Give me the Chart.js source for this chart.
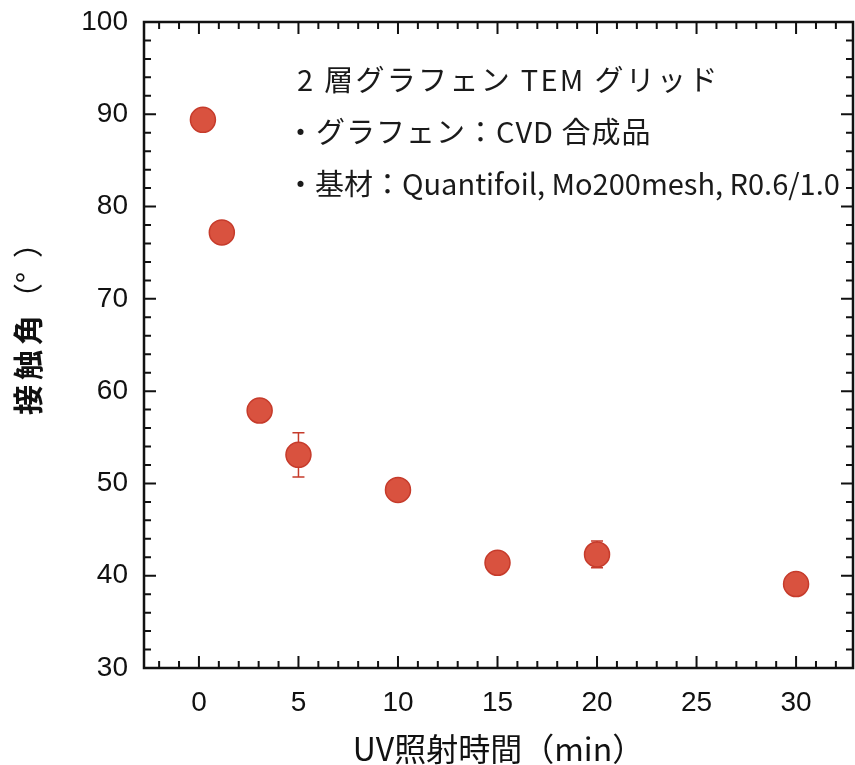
<!DOCTYPE html>
<html lang="ja">
<head>
<meta charset="utf-8">
<title>接触角 vs UV照射時間</title>
<script src="https://cdn.jsdelivr.net/npm/chart.js@4.4.1/dist/chart.umd.min.js"></script>
<style>
  html, body { margin: 0; padding: 0; background: #fff; }
  #wrap { width: 855px; height: 765px; }
</style>
</head>
<body>
<div id="wrap"><canvas id="chart-contact" width="855" height="765"></canvas></div>
<script>
// ===== Data =====
const uvMinutes = [0.2, 1.15, 3.05, 5, 10, 15, 20, 30];
const contactAngle = [89.4, 77.2, 57.9, 53.1, 49.3, 41.4, 42.3, 39.1];
const angleError = [0, 0, 0, 2.4, 0, 0, 1.45, 0];
const xTickValues = [0, 5, 10, 15, 20, 25, 30];
const noteLines = [
  '2 層グラフェン TEM グリッド',
  '・グラフェン：CVD 合成品',
  '・基材：Quantifoil, Mo200mesh, R0.6/1.0'
];

const RED = '#d9523f';
const RED_DARK = '#c63b2b';
const AXIS_FONT = '"Liberation Sans", Arial, sans-serif';
const JP_FONT = '"Noto Sans CJK JP", "Noto Sans", sans-serif';

// ===== Error bars (drawn under the markers) =====
const errorBarPlugin = {
  id: 'errorBars',
  beforeDatasetsDraw(chart) {
    const { ctx, scales: { x, y } } = chart;
    ctx.save();
    ctx.strokeStyle = RED_DARK;
    ctx.lineWidth = 1.5;
    uvMinutes.forEach((t, i) => {
      const e = angleError[i];
      if (!e) return;
      const px = x.getPixelForValue(t);
      const top = y.getPixelForValue(contactAngle[i] + e);
      const bot = y.getPixelForValue(contactAngle[i] - e);
      ctx.beginPath();
      ctx.moveTo(px, top); ctx.lineTo(px, bot);
      ctx.moveTo(px - 6, top); ctx.lineTo(px + 6, top);
      ctx.moveTo(px - 6, bot); ctx.lineTo(px + 6, bot);
      ctx.stroke();
    });
    ctx.restore();
  }
};

// ===== Frame with inward ticks on all four sides, y title, note text =====
const framePlugin = {
  id: 'frame',
  afterDraw(chart) {
    const { ctx, chartArea: a, scales: { x, y } } = chart;
    ctx.save();
    ctx.strokeStyle = '#111';
    ctx.lineWidth = 2.5;
    ctx.strokeRect(a.left, a.top, a.right - a.left, a.bottom - a.top);

    ctx.lineWidth = 2;
    ctx.beginPath();
    for (let v = Math.ceil(x.min); v <= x.max; v++) {
      const px = x.getPixelForValue(v);
      const len = v % 5 === 0 ? 12 : 7;
      ctx.moveTo(px, a.bottom); ctx.lineTo(px, a.bottom - len);
      ctx.moveTo(px, a.top); ctx.lineTo(px, a.top + len);
    }
    for (let v = y.min; v <= y.max; v += 2) {
      const py = y.getPixelForValue(v);
      const len = v % 10 === 0 ? 12 : 7;
      ctx.moveTo(a.left, py); ctx.lineTo(a.left + len, py);
      ctx.moveTo(a.right, py); ctx.lineTo(a.right - len, py);
    }
    ctx.stroke();

    // y axis title: bold kanji, light brackets, reading bottom-to-top
    ctx.fillStyle = '#111';
    ctx.save();
    ctx.translate(28, 415);
    ctx.rotate(-Math.PI / 2);
    ctx.textAlign = 'left';
    ctx.textBaseline = 'middle';
    ctx.font = 'bold 30px ' + JP_FONT;
    ctx.letterSpacing = '5px';
    ctx.fillText('接触角', 0, 0);
    const w = ctx.measureText('接触角').width;
    ctx.font = '30px ' + JP_FONT;
    ctx.letterSpacing = '0px';
    ctx.fillText('（°', w - 3, 0);
    const w2 = ctx.measureText('（°').width;
    ctx.fillText('）', w - 3 + w2 + 14, 0);
    ctx.restore();

    // note block
    ctx.fillStyle = '#1a1a1a';
    ctx.font = '29px ' + JP_FONT;
    ctx.textBaseline = 'middle';
    ctx.textAlign = 'left';
    const lineX = [297, 286, 286];
    const lineY = [80, 132, 184];
    const spacing = ['2.3px', '1px', '0px'];
    noteLines.forEach((s, i) => {
      ctx.letterSpacing = spacing[i];
      ctx.fillText(s, lineX[i], lineY[i]);
    });
    ctx.restore();
  }
};

const canvas = document.getElementById('chart-contact');
const chart = new Chart(canvas, {
  type: 'scatter',
  data: {
    datasets: [{
      label: '接触角',
      data: uvMinutes.map((t, i) => ({ x: t, y: contactAngle[i] })),
      backgroundColor: RED,
      borderColor: RED_DARK,
      borderWidth: 1.5,
      pointRadius: 12.5,
      pointHoverRadius: 12.5
    }]
  },
  options: {
    responsive: false,
    animation: false,
    layout: { autoPadding: false, padding: { top: 22, right: 2, left: 0, bottom: 0 } },
    scales: {
      x: {
        type: 'linear',
        min: -2.76,
        max: 32.86,
        afterBuildTicks: (s) => { s.ticks = xTickValues.map(v => ({ value: v })); },
        afterFit: (s) => {
          s.height = 97;
          s.paddingLeft = 0;
          s.paddingRight = 0;
        },
        grid: { display: false, drawTicks: false },
        border: { display: false },
        ticks: {
          color: '#111',
          padding: 18,
          font: { family: AXIS_FONT, size: 28 }
        },
        title: {
          display: true,
          text: 'UV照射時間（min）',
          color: '#111',
          font: { family: JP_FONT, size: 32 },
          padding: { top: 0, bottom: -3 }
        }
      },
      y: {
        min: 30,
        max: 100,
        afterFit: (s) => {
          s.width = 144;
          s.paddingTop = 0;
          s.paddingBottom = 0;
        },
        grid: { display: false, drawTicks: false },
        border: { display: false },
        ticks: {
          stepSize: 10,
          color: '#111',
          padding: 16,
          font: { family: AXIS_FONT, size: 28 }
        },
        title: { display: false }
      }
    },
    plugins: {
      legend: { display: false },
      tooltip: { enabled: false }
    }
  },
  plugins: [errorBarPlugin, framePlugin]
});
</script>
</body>
</html>
